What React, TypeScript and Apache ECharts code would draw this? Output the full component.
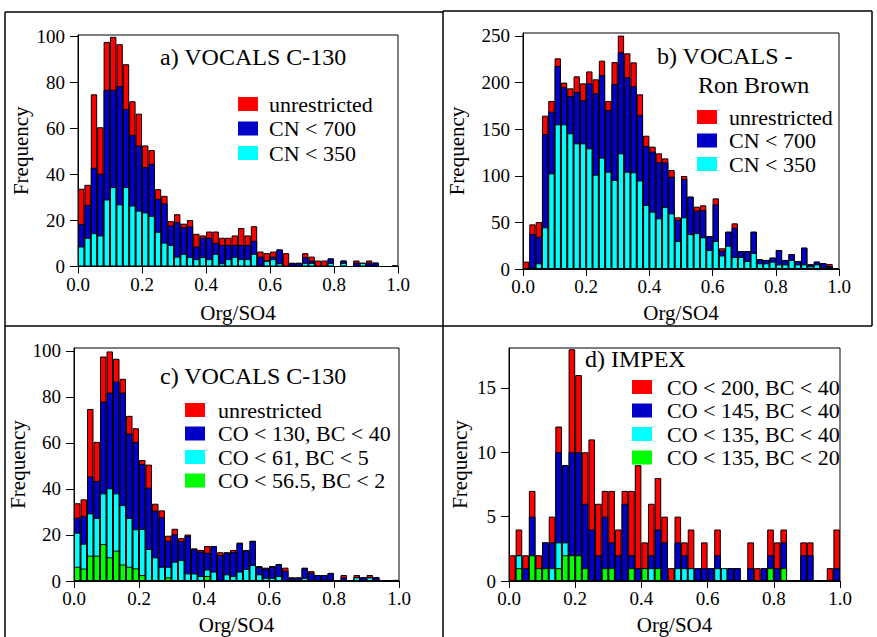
import React, { useEffect, useRef } from "react";
import * as echarts from "echarts";

// ---- bins (Org/SO4 histogram, 0.02 wide, 0..1) ----
const BIN_WIDTH = 0.02;
const binCenters: number[] = Array.from({ length: 50 }, (_, i) => +(BIN_WIDTH * i + BIN_WIDTH / 2).toFixed(3));
const xTickLabels = ["0.0", "0.2", "0.4", "0.6", "0.8", "1.0"];

// ---- a) / c) VOCALS C-130 ----
const vocalsUnrestricted = [33.8, 35.5, 74.8, 60.5, 97.6, 99.8, 96.6, 87.9, 71.8, 66.4, 52.6, 50.6, 33.6, 30.7, 19.7, 22.7, 18.6, 20.2, 14.2, 13.5, 15.2, 15.2, 12.5, 12.5, 13.5, 16.7, 13.5, 17.5, 6.5, 5.8, 6.5, 7.4, 5.8, 1.6, 1.6, 5.8, 4.3, 2.6, 2.6, 3.5, 0, 2.6, 0, 2.6, 1.6, 2.6, 1.7, 0, 0, 0.5];
const vocalsCN700 = [18.5, 26.8, 42.9, 40.3, 76.8, 76.8, 78.4, 68.4, 57.2, 52.6, 43.2, 44.6, 29.4, 27.5, 17.8, 19.3, 17.1, 17.4, 8.7, 12.5, 12.5, 10.3, 9.4, 9.4, 9.4, 9.4, 9.4, 11.2, 4.3, 2.6, 4.3, 7.4, 0, 1.6, 1.6, 4.1, 2.6, 0, 0, 3.5, 0, 2.6, 0, 1.7, 1.6, 1.7, 1.7, 0, 0, 0];
const vocalsCN350 = [8.7, 12.5, 14.5, 13.5, 29.1, 34.5, 27.0, 34.5, 26.5, 24.3, 23.5, 22.0, 15.1, 10.4, 9.4, 4.3, 5.5, 4.1, 3.2, 4.1, 3.2, 5.5, 1.4, 3.2, 4.2, 3.2, 3.2, 5.5, 0, 2.5, 3.2, 1.4, 0, 0, 0, 1.6, 1.6, 0, 0, 1.6, 0, 1.6, 0, 0, 1.6, 0, 0, 0, 0, 0];
const vocalsCO130 = [27.5, 28.3, 45.4, 43.5, 78.0, 81.9, 86.7, 81.9, 64.1, 60.4, 50.9, 40.6, 30.6, 27.7, 17.5, 20.3, 17.4, 19.6, 13.8, 12.8, 12.3, 15.2, 11.3, 12.3, 12.6, 16.4, 13.3, 17.4, 6.2, 5.4, 6.2, 7.2, 4.5, 1.4, 1.4, 5.5, 3.5, 2.6, 2.6, 3.5, 0, 1.6, 0, 1.6, 1.6, 1.6, 1.6, 0, 0, 0];
const vocalsCO61 = [21.0, 16.2, 29.4, 27.4, 38.1, 40.3, 38.1, 33.0, 27.4, 22.5, 22.6, 13.9, 10.3, 6.2, 6.2, 8.4, 9.1, 3.3, 3.3, 2.2, 5.0, 4.1, 0, 2.9, 2.2, 4.1, 5.2, 7.0, 2.9, 1.4, 1.4, 2.2, 0, 0, 0, 1.4, 0, 0, 0, 0, 0, 0, 0, 1.6, 0, 1.6, 0, 0, 0, 0];
const vocalsCO565 = [6.2, 5.4, 11.0, 11.0, 16.1, 10.3, 13.2, 7.2, 6.2, 5.5, 2.6, 0, 0, 0, 1.6, 0, 0, 0, 0, 0, 2.2, 0, 0, 0, 0, 0, 0, 0, 0, 0, 0, 0, 0, 0, 0, 0, 0, 0, 0, 0, 0, 0, 0, 0, 0, 0, 0, 0, 0, 0];

// ---- b) VOCALS - Ron Brown ----
const ronBrownUnrestricted = [7.9, 47.9, 50.4, 164.5, 180.3, 226, 200, 193.8, 206.7, 199.2, 212, 203.5, 223.5, 180.3, 222, 250.4, 231.4, 221.7, 187.4, 143, 131.3, 124.1, 118.7, 106.2, 55.4, 99.8, 77.6, 66.9, 68.3, 35.4, 75.8, 22.2, 40, 49, 19.3, 19.3, 40, 10.4, 9.7, 12.2, 20.4, 9.7, 16.1, 8.6, 22.9, 5, 7.9, 6.4, 5.4, 0];
const ronBrownCN700 = [1, 37.6, 34.7, 144.8, 168.8, 217.8, 195, 185.6, 190, 181, 199.2, 188.5, 208, 170.6, 198.5, 232.5, 205.7, 196, 165.2, 132, 125.9, 114.5, 114.4, 99, 52.6, 96.6, 77.6, 62.6, 63.3, 35.4, 69.4, 19.7, 40, 44.3, 19.3, 19.3, 40, 10.4, 9.7, 12.2, 20.4, 9.7, 16.1, 8.6, 22.9, 5, 7.9, 6.4, 3.2, 0];
const ronBrownCN350 = [0, 0, 6.1, 44.7, 102.6, 155.2, 155.2, 145.6, 134.8, 134.8, 129.5, 101.2, 119.5, 104.4, 95.5, 124.1, 104.4, 103.7, 95, 68.7, 61.5, 54.4, 66.7, 59.7, 30, 55.4, 37.4, 38.5, 34, 20.4, 30, 14.5, 25, 12.9, 12.9, 8.6, 17.2, 6.1, 6.1, 7.9, 5, 5, 9.7, 5, 5, 2.9, 5, 1.8, 1.4, 0];

// ---- d) IMPEX ----
const impexCO200BC40 = [2, 4, 2, 7, 2, 3, 5, 12, 9, 18, 16, 10, 11, 6, 7, 7, 4, 7, 7, 9, 3, 6, 8, 5, 1, 5, 3, 4, 1, 3, 1, 4, 1, 1, 1, 0, 3, 1, 1, 4, 3, 4, 0, 0, 3, 3, 0, 0, 1, 4];
const impexCO145BC40 = [0, 2, 1, 5, 1, 3, 3, 10, 9, 10, 10, 6, 4, 2, 5, 3, 2, 6, 2, 1, 1, 2, 4, 3, 0, 3, 2, 1, 1, 1, 1, 2, 1, 1, 1, 0, 1, 0, 1, 2, 1, 3, 0, 0, 2, 2, 0, 0, 0, 1];
const impexCO135BC40 = [0, 2, 0, 2, 1, 1, 1, 3, 3, 2, 2, 1, 0, 0, 1, 1, 0, 0, 1, 0, 1, 1, 1, 0, 0, 1, 1, 1, 0, 0, 0, 1, 1, 0, 0, 0, 0, 0, 0, 1, 0, 1, 0, 0, 0, 0, 0, 0, 0, 0];
const impexCO135BC20 = [0, 1, 0, 2, 1, 1, 0, 1, 2, 2, 2, 1, 0, 0, 1, 1, 0, 0, 1, 0, 1, 0, 1, 0, 0, 0, 0, 0, 0, 0, 0, 0, 0, 0, 0, 0, 0, 0, 0, 1, 0, 1, 0, 0, 0, 0, 0, 0, 0, 0];

const legendA = ["unrestricted", "CN < 700", "CN < 350"];
const legendC = ["unrestricted", "CO < 130, BC < 40", "CO < 61, BC < 5", "CO < 56.5, BC < 2"];
const legendD = ["CO < 200, BC < 40", "CO < 145, BC < 40", "CO < 135, BC < 40", "CO < 135, BC < 20"];

const RED = "#ff0000";
const BLUE = "#0000c8";
const CYAN = "#00ffff";
const GREEN = "#00ff00";
const FONT = "'Liberation Serif', 'Times New Roman', serif";

const W = 877;
const H = 637;

const grids = [
  { left: 78, top: 35, width: 320, height: 231.5 },
  { left: 523, top: 33, width: 316, height: 236 },
  { left: 74, top: 348, width: 325, height: 233 },
  { left: 509, top: 348, width: 331, height: 233 },
];
const yMax = [100.6, 253.2, 101.3, 18.1];
const yInterval = [20, 50, 20, 5];
const yNameGap = [47, 56, 43.5, 38.5];
const xNameGap = [36, 33.5, 33.5, 33.5];

const panels = [
  { names: legendA, colors: [RED, BLUE, CYAN], data: [vocalsUnrestricted, vocalsCN700, vocalsCN350] },
  { names: legendA, colors: [RED, BLUE, CYAN], data: [ronBrownUnrestricted, ronBrownCN700, ronBrownCN350] },
  { names: legendC, colors: [RED, BLUE, CYAN, GREEN], data: [vocalsUnrestricted, vocalsCO130, vocalsCO61, vocalsCO565] },
  { names: legendD, colors: [RED, BLUE, CYAN, GREEN], data: [impexCO200BC40, impexCO145BC40, impexCO135BC40, impexCO135BC20] },
];

const legendPos = [
  { left: 238, top: 93, gap: 2.5, pad: 6 },
  { left: 697, top: 106, gap: 1.5, pad: 7 },
  { left: 185, top: 399, gap: 1.5, pad: 8 },
  { left: 632, top: 376, gap: 1.5, pad: 10 },
];

export default function App() {
  const ref = useRef<HTMLDivElement>(null);
  useEffect(() => {
    if (!ref.current) return;
    const chart = echarts.init(ref.current, null, { renderer: "svg", width: W, height: H });

    const xAxis = grids.map((_, i) => ({
      type: "value",
      gridIndex: i,
      min: 0,
      max: 1,
      interval: 0.2,
      name: "Org/SO4",
      nameLocation: "middle",
      nameGap: xNameGap[i],
      nameTextStyle: { fontFamily: FONT, fontSize: 21, color: "#000" },
      axisLine: { show: true, onZero: false, lineStyle: { color: "#000", width: 1 } },
      axisTick: { show: true, inside: false, length: 7, lineStyle: { color: "#000" } },
      axisLabel: {
        fontFamily: FONT,
        fontSize: 19,
        color: "#000",
        margin: 8,
        formatter: (v: number) => xTickLabels[Math.round(v / 0.2)] ?? "",
      },
      splitLine: { show: false },
    }));

    const yAxis = grids.map((_, i) => ({
      type: "value",
      gridIndex: i,
      min: 0,
      max: yMax[i],
      interval: yInterval[i],
      name: "Frequency",
      nameLocation: "middle",
      nameRotate: 90,
      nameGap: yNameGap[i],
      nameTextStyle: { fontFamily: FONT, fontSize: 21, color: "#000" },
      axisLine: { show: true, lineStyle: { color: "#000", width: 1 } },
      axisTick: { show: true, inside: false, length: 8, lineStyle: { color: "#000" } },
      axisLabel: { fontFamily: FONT, fontSize: 19, color: "#000", margin: 13, showMaxLabel: false },
      splitLine: { show: false },
    }));

    const series: any[] = [];
    panels.forEach((p, i) => {
      const bw = grids[i].width / 50;
      p.data.forEach((arr, j) => {
        series.push({
          type: "bar",
          name: p.names[j],
          xAxisIndex: i,
          yAxisIndex: i,
          barWidth: bw,
          barGap: "-100%",
          itemStyle: { color: p.colors[j], borderColor: "#000", borderWidth: 1 },
          data: arr.map((v, k) => [binCenters[k], v]),
          silent: true,
        });
      });
    });

    const legend = panels.map((p, i) => ({
      data: p.names.map((n, j) => ({ name: n, itemStyle: { color: p.colors[j], borderWidth: 0 } })),
      left: legendPos[i].left,
      top: legendPos[i].top,
      padding: 0,
      orient: "vertical",
      icon: "rect",
      itemWidth: 20,
      itemHeight: 14,
      itemGap: legendPos[i].gap,
      selectedMode: false,
      textStyle: { fontFamily: FONT, fontSize: 22, color: "#000", lineHeight: 22, padding: [0, 0, 0, legendPos[i].pad] },
    }));

    const lineStyle = { stroke: "#000", lineWidth: 1.5 };
    const frameLines = [
      [5, 12, 443, 12],
      [443, 11, 872, 11],
      [5, 326, 872, 326],
      [5, 12, 5, 637],
      [443, 11, 443, 637],
      [872, 11, 872, 326],
    ];
    const textStyle = (fs: number) => ({ fontFamily: FONT, fontSize: fs, fill: "#000" });

    chart.setOption({
      animation: false,
      backgroundColor: "#fff",
      grid: grids.map((g) => ({ ...g, show: true, borderColor: "#000", borderWidth: 1, containLabel: false })),
      xAxis,
      yAxis,
      legend,
      series,
      graphic: [
        ...frameLines.map(([x1, y1, x2, y2]) => ({
          type: "line",
          shape: { x1, y1, x2, y2 },
          style: lineStyle,
          silent: true,
        })),
        { type: "text", left: 160, top: 45, style: { text: "a) VOCALS C-130", ...textStyle(24) } },
        { type: "text", left: 657, top: 44, style: { text: "b) VOCALS -", ...textStyle(24) } },
        { type: "text", left: 698, top: 73, style: { text: "Ron Brown", ...textStyle(24) } },
        { type: "text", left: 160, top: 364, style: { text: "c) VOCALS C-130", ...textStyle(24) } },
        { type: "text", left: 585, top: 347, style: { text: "d) IMPEX", ...textStyle(24) } },
      ],
    });
    return () => chart.dispose();
  }, []);

  return <div ref={ref} style={{ position: "absolute", left: 0, top: 0, width: W, height: H, background: "#fff" }} />;
}
